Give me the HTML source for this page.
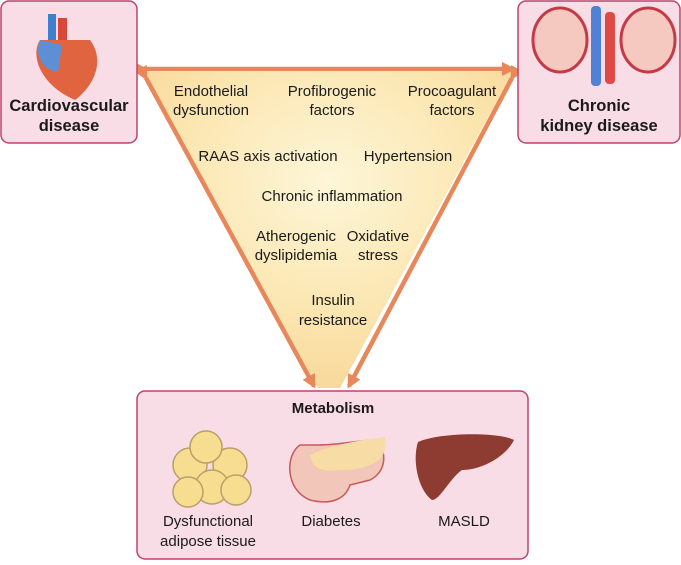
<!DOCTYPE html>
<html><head><style>
body{margin:0;width:681px;height:560px;background:#fff;overflow:hidden}
text{font-family:"Liberation Sans",Arial,sans-serif;font-size:15px;fill:#1a1a1a}
.b{font-weight:bold;font-size:16.5px}
</style></head><body>
<svg width="681" height="560" viewBox="0 0 681 560">
<defs>
<radialGradient id="g" cx="0.5" cy="0.35" r="0.7">
<stop offset="0" stop-color="#fdf6d8"/><stop offset="0.6" stop-color="#fbe6b0"/><stop offset="1" stop-color="#f8d597"/>
</radialGradient>
<marker id="a" markerWidth="14" markerHeight="14" refX="11" refY="7" orient="auto" markerUnits="userSpaceOnUse">
<path d="M0,0 L14,7 L0,14 Z" fill="#e8875a"/></marker>
</defs>
<polygon points="145,72 513,72 340,388 318,388" fill="url(#g)"/>
<g stroke="#e8875a" stroke-width="4.5" fill="none">
<line x1="145" y1="69" x2="513" y2="69" marker-start="url(#a)" marker-end="url(#a)"/>
<line x1="146" y1="78" x2="314" y2="386" marker-start="url(#a)" marker-end="url(#a)"/>
<line x1="512" y1="78" x2="349" y2="386" marker-start="url(#a)" marker-end="url(#a)"/>
</g>
<rect x="1" y="1" width="136" height="142" rx="8" fill="#f8dde6" stroke="#c0406e" stroke-width="1.5"/>
<rect x="518" y="1" width="162" height="142" rx="8" fill="#f8dde6" stroke="#c0406e" stroke-width="1.5"/>
<rect x="137" y="391" width="391" height="168" rx="8" fill="#f8dde6" stroke="#c0406e" stroke-width="1.5"/>
<rect x="48" y="14" width="8" height="26" fill="#3f7fd0"/>
<rect x="58" y="18" width="9" height="22" fill="#d9463a"/>
<path d="M40,40 C30,55 40,85 75,100 C95,85 105,60 90,40 Z" fill="#e0643f"/>
<path d="M40,40 C34,55 42,70 58,72 L62,45 Z" fill="#5d8fd4"/>
<rect x="591" y="6" width="10" height="80" rx="4" fill="#4f82d6"/>
<rect x="605" y="12" width="10" height="72" rx="4" fill="#e04a44"/>
<ellipse cx="560" cy="40" rx="27" ry="32" fill="#f6c9c0" stroke="#c43b47" stroke-width="3"/>
<ellipse cx="648" cy="40" rx="27" ry="32" fill="#f6c9c0" stroke="#c43b47" stroke-width="3"/>
<g fill="#f7dd8f" stroke="#b9a06a" stroke-width="1.5">
<circle cx="190" cy="465" r="17"/><circle cx="230" cy="465" r="17"/><circle cx="212" cy="487" r="17"/>
<circle cx="206" cy="447" r="16"/><circle cx="188" cy="492" r="15"/><circle cx="236" cy="490" r="15"/>
</g>
<path d="M300,445 C285,455 285,490 310,500 C330,505 345,500 350,485 L370,480 C390,470 385,445 375,440 C360,440 340,445 318,445 Z" fill="#f2c6b8" stroke="#c75a5a" stroke-width="1.5"/>
<path d="M310,455 C330,445 360,440 385,437 C390,460 370,470 340,470 C320,472 312,468 310,455Z" fill="#f8dca5"/>
<path d="M418,442 C440,432 500,432 514,440 C505,458 480,470 462,470 C450,478 440,500 432,500 C418,490 412,460 418,442Z" fill="#8e3c32"/>
<text class="b" x="69" y="111" text-anchor="middle">Cardiovascular</text>
<text class="b" x="69" y="131" text-anchor="middle">disease</text>
<text class="b" x="599" y="111" text-anchor="middle">Chronic</text>
<text class="b" x="599" y="131" text-anchor="middle">kidney disease</text>
<text class="b" x="333" y="413" text-anchor="middle" style="font-size:15px">Metabolism</text>
<g text-anchor="middle">
<text x="211" y="96">Endothelial</text><text x="211" y="115">dysfunction</text>
<text x="332" y="96">Profibrogenic</text><text x="332" y="115">factors</text>
<text x="452" y="96">Procoagulant</text><text x="452" y="115">factors</text>
<text x="268" y="161">RAAS axis activation</text>
<text x="408" y="161">Hypertension</text>
<text x="332" y="201">Chronic inflammation</text>
<text x="296" y="241">Atherogenic</text><text x="296" y="260">dyslipidemia</text>
<text x="378" y="241">Oxidative</text><text x="378" y="260">stress</text>
<text x="333" y="305">Insulin</text><text x="333" y="325">resistance</text>
<text x="208" y="526">Dysfunctional</text><text x="208" y="546">adipose tissue</text>
<text x="331" y="526">Diabetes</text>
<text x="464" y="526">MASLD</text>
</g>
</svg>
</body></html>
